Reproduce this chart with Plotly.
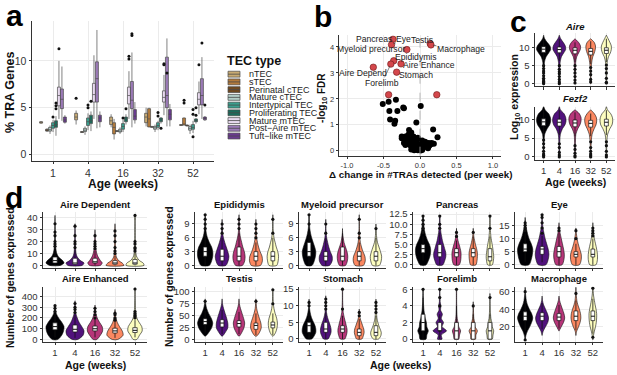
import plotly.graph_objects as go

W, H = 617, 375
FONT = "Liberation Sans"

# ------------------------------------------------------------------ data
ages = ["1", "4", "16", "32", "52"]
age_colors = ["#000004", "#51127C", "#B63679", "#FB8861", "#FCFDBF"]

# panel a : % TRA genes per TEC type and age -> [lo, q1, median, q3, hi]
tec_types = ["nTEC", "sTEC", "Perinatal cTEC", "Mature cTEC", "Intertypical TEC",
             "Proliferating TEC", "Mature mTEC", "Post\u2212Aire mTEC", "Tuft\u2212like mTEC"]
tec_colors = ["#C9AB72", "#B27A3B", "#70491F", "#B3CEC7", "#3A9F8E",
              "#1B6B5B", "#E8DAEF", "#9B7AB7", "#6A3A90"]
tra_ntec = [[3.3, 3.35, 3.45, 3.5, 3.55], [3.2, 3.7, 4.0, 4.4, 4.7], [2.9, 3.2, 3.6, 4.0, 4.3], [3.0, 3.4, 4.0, 4.4, 5.0], [3.05, 3.1, 3.15, 3.2, 3.25]]
tra_stec = [None, None, [1.6, 2.2, 2.9, 3.4, 3.8], [2.9, 2.95, 3.8, 4.9, 5.0], [3.1, 3.15, 3.2, 3.9, 3.95]]
tra_peri = [[2.4, 2.5, 2.6, 2.7, 2.8], [2.3, 2.35, 2.4, 2.45, 2.5], [2.4, 2.45, 2.5, 2.55, 2.6], [2.85, 2.9, 2.95, 3.0, 3.0], [3.0, 3.05, 3.1, 3.15, 3.2]]
tra_mctec = [[2.2, 2.5, 2.65, 2.9, 3.1], [2.1, 2.45, 2.6, 2.8, 3.0], [2.2, 2.4, 2.5, 2.7, 2.9], [2.4, 2.7, 2.85, 3.0, 3.2], [2.2, 2.6, 2.8, 3.0, 3.2]]
tra_inter = [[2.4, 2.8, 3.1, 3.4, 3.7], [2.6, 3.1, 3.5, 3.9, 4.4], [2.4, 2.7, 3.0, 3.3, 3.7], [2.6, 2.9, 3.1, 3.4, 3.6], [2.3, 2.7, 2.9, 3.2, 3.6]]
tra_prolif = [[2.0, 2.9, 3.2, 3.6, 4.1], [2.5, 3.3, 3.6, 4.2, 4.6], [3.2, 3.5, 3.8, 4.0, 4.3], [3.3, 3.5, 3.7, 3.9, 4.0], [3.3, 3.5, 3.6, 3.8, 3.9]]
tra_mmtec = [[3.8, 5.2, 6.3, 7.2, 10.0], [3.8, 5.6, 6.4, 7.6, 10.6], [3.8, 5.4, 6.3, 7.2, 8.9], [4.2, 5.6, 6.1, 6.8, 8.5], [4.3, 5.3, 5.9, 6.6, 7.8]]
tra_postaire = [[3.6, 4.9, 5.9, 7.0, 9.4], [2.8, 5.6, 8.1, 9.9, 13.3], [2.9, 4.9, 5.8, 7.8, 10.9], [3.0, 5.0, 6.3, 10.4, 12.4], [3.8, 5.3, 6.3, 8.1, 10.4]]
tra_tuft = [[3.3, 3.45, 3.7, 4.0, 4.2], [2.9, 3.5, 3.9, 4.2, 4.6], [3.3, 3.7, 4.1, 4.8, 5.6], [3.0, 3.7, 4.3, 4.8, 5.4], [3.6, 3.7, 3.85, 4.0, 4.1]]
tra_out_ntec = [[], [6.0], [], [], []]
tra_out_stec = [[], [], [], [], [5.5, 5.8]]
tra_out_peri = [[], [], [], [], []]
tra_out_mctec = [[], [], [], [], []]
tra_out_inter = [[4.0], [5.0, 5.3], [3.9], [4.1, 4.5], [1.9, 4.3, 4.8]]
tra_out_prolif = [[4.9, 5.2, 5.5], [5.7], [4.9], [2.8], [4.2, 5.0]]
tra_out_mmtec = [[11.3], [], [10.2, 10.5], [9.6, 9.7], [9.6]]
tra_out_postaire = [[], [], [12.7, 12.9], [8.7], [11.9]]
tra_out_tuft = [[], [], [], [], [5.3]]

# panel b : volcano
b_black_dx = [-0.51, -0.43, -0.33, -0.23, -0.22, -0.42, -0.31, 0.01, -0.41, -0.34, -0.35, -0.05, 0.18, -0.15,
              -0.12, -0.16, -0.25, -0.25, -0.20, -0.09, -0.03, 0.24, 0.19, -0.21, -0.18, -0.14, -0.12, -0.10,
              -0.08, -0.06, -0.04, -0.02, 0.00, 0.02, 0.04, 0.06, 0.08, 0.10, 0.12, 0.15, -0.15, -0.13, -0.11,
              -0.09, -0.07, -0.05, -0.03, 0.01, 0.03, 0.05, 0.07, -0.17, -0.20, -0.22, -0.10, -0.06, 0.09, 0.11,
              0.13, -0.01, 0.03, -0.04, 0.16, -0.12, -0.08]
b_black_fdr = [1.80, 1.89, 1.97, 1.67, 1.64, 1.53, 1.53, 1.73, 1.21, 1.16, 1.04, 1.09, 0.82, 0.80,
               0.70, 0.62, 0.55, 0.48, 0.55, 0.55, 0.50, 0.52, 0.27, 0.40, 0.35, 0.45, 0.38, 0.30,
               0.25, 0.20, 0.15, 0.10, 0.05, 0.08, 0.12, 0.18, 0.22, 0.28, 0.30, 0.25, 0.25, 0.20, 0.15,
               0.12, 0.08, 0.05, 0.02, 0.01, 0.03, 0.30, 0.35, 0.30, 0.22, 0.30, 0.40, 0.35, 0.15, 0.10,
               0.20, 0.25, 0.40, 0.42, 0.30, 0.05, 0.02]
b_red_names = ["Pancreas", "Eye", "Testis", "Macrophage", "Myeloid precursor", "Epididymis",
               "Forelimb", "Aire Enhance", "Stomach", "Aire Depend", "", ""]
b_red_dx = [-0.37, -0.39, 0.14, 0.15, -0.18, -0.36, -0.40, -0.26, -0.32, -0.64, -0.43, 0.23]
b_red_fdr = [4.30, 4.09, 4.13, 4.08, 3.90, 3.47, 3.34, 3.35, 3.03, 3.22, 2.16, 2.16]

# panel c : log10 expression violins (density profile at levels) + box stats [lo,q1,med,q3,hi]
c_levels = [0, 1.5, 3, 4.5, 6, 7.5, 8.5, 9.5, 10.5, 11.5, 12.5, 13.5]
aire_widths = [[0.05, 0.05, 0.06, 0.08, 0.12, 0.35, 0.7, 1.0, 0.9, 0.5, 0.15, 0],
               [0.05, 0.05, 0.06, 0.08, 0.12, 0.3, 0.6, 0.9, 0.85, 0.55, 0.2, 0],
               [0.04, 0.04, 0.05, 0.07, 0.1, 0.25, 0.5, 0.75, 0.78, 0.5, 0, 0],
               [0.04, 0.04, 0.05, 0.08, 0.15, 0.3, 0.5, 0.65, 0.68, 0.5, 0, 0],
               [0.04, 0.04, 0.05, 0.07, 0.12, 0.3, 0.55, 0.7, 0.7, 0.5, 0.25, 0]]
aire_stats = [[6.4, 8.7, 9.6, 10.3, 12.5], [6.3, 8.6, 9.5, 10.2, 12.5], [6.0, 8.3, 9.3, 10.0, 11.5],
              [5.5, 8.0, 9.0, 9.8, 11.8], [6.0, 8.4, 9.3, 10.0, 12.5]]
aire_out = [[0, 0.3, 0.6, 1.0, 1.5, 2.2, 3.0, 3.5, 4.2, 5.0], [0, 0.5, 1.2, 2.0, 2.8, 3.3, 4.0, 5.0],
            [0.2, 1.0, 2.0, 3.0, 4.0, 5.0], [0.5, 1.2, 2.5, 3.5, 4.5], [0.2, 0.4, 1.5, 3.0, 4.2, 5.2]]
fezf2_widths = [[0.05, 0.05, 0.06, 0.08, 0.15, 0.5, 0.85, 1.0, 0.95, 0.7, 0.2, 0],
                [0.05, 0.05, 0.06, 0.08, 0.15, 0.45, 0.8, 0.95, 0.9, 0.65, 0.15, 0],
                [0.04, 0.04, 0.05, 0.07, 0.12, 0.4, 0.7, 0.85, 0.85, 0.6, 0, 0],
                [0.05, 0.05, 0.06, 0.1, 0.2, 0.5, 0.75, 0.85, 0.8, 0.5, 0, 0],
                [0.04, 0.04, 0.05, 0.08, 0.18, 0.5, 0.8, 0.9, 0.85, 0.6, 0.15, 0]]
fezf2_stats = [[5.8, 8.3, 9.3, 10.1, 12.5], [5.8, 8.2, 9.2, 10.0, 12.4], [5.5, 8.0, 9.0, 9.8, 11.8],
               [5.5, 7.9, 8.9, 9.7, 11.5], [5.8, 8.2, 9.2, 10.0, 12.4]]
fezf2_out = [[0, 0.4, 0.8, 1.5, 2.5, 3.5, 4.5], [0, 0.5, 1.2, 2.5, 3.5], [0, 0.3, 1.0, 2.0, 3.0],
             [0, 0.3, 0.8, 1.5, 2.5, 4.0], [0, 0.5, 1.5, 3.0, 4.0]]

# panel d : number of genes expressed per TRA category
ad_levels = [0, 2, 4, 7, 10, 15, 20, 25, 30, 35, 42]
ad_widths = [[0.6, 1.0, 0.85, 0.4, 0.2, 0.08, 0.05, 0.04, 0.03, 0.02, 0],
             [0.8, 1.0, 0.6, 0.25, 0.12, 0.06, 0.04, 0.03, 0.02, 0, 0],
             [0.6, 0.8, 0.6, 0.35, 0.2, 0.08, 0.04, 0.02, 0, 0, 0],
             [1.0, 0.8, 0.4, 0.15, 0.08, 0.05, 0.04, 0.03, 0.02, 0, 0],
             [1.0, 0.9, 0.5, 0.2, 0.1, 0.06, 0.04, 0.03, 0.03, 0.02, 0.02]]
ad_stats = [[0, 2, 4, 7, 14], [0, 1, 2, 6, 13], [0, 2, 3, 6, 12], [0, 1, 2, 4, 8], [0, 1, 2, 5, 11]]
ad_out = [[16, 18, 20, 25, 28, 35], [15, 18, 20, 25, 33], [14, 16, 18, 20, 25], [10, 12, 15, 20, 25, 29], [12, 14, 15, 18, 20, 42]]

ae_levels = [0, 40, 80, 120, 160, 200, 240, 280, 320, 360, 400, 440, 480]
ae_widths = [[0.3, 0.75, 0.95, 1.0, 0.75, 0.4, 0.15, 0.06, 0, 0, 0, 0, 0],
             [0.3, 0.9, 1.0, 0.75, 0.45, 0.25, 0.1, 0.05, 0.03, 0, 0, 0, 0],
             [0.2, 0.6, 0.85, 0.8, 0.5, 0.25, 0.1, 0.04, 0, 0, 0, 0, 0],
             [0.3, 0.9, 0.8, 0.5, 0.25, 0.1, 0.04, 0, 0, 0, 0, 0, 0],
             [0.2, 0.5, 0.8, 0.75, 0.45, 0.2, 0.1, 0.06, 0.04, 0.03, 0.02, 0.02, 0.01]]
ae_stats = [[20, 90, 120, 155, 240], [15, 70, 95, 135, 230], [20, 80, 100, 125, 190], [15, 60, 80, 105, 170], [20, 65, 85, 110, 180]]
ae_out = [[260, 290, 315], [250, 280, 300, 335], [200, 230, 260, 290], [180, 200, 230, 245], [200, 220, 240, 260, 470]]

ep_levels = [0, 1, 2, 3, 4, 5, 6, 7, 8, 9, 10, 11]
ep_widths = [[0.55, 0.85, 1.0, 1.0, 0.85, 0.55, 0.3, 0.15, 0.08, 0.05, 0.03, 0.02],
             [0.5, 0.8, 0.9, 0.75, 0.55, 0.35, 0.18, 0.08, 0.04, 0.02, 0, 0],
             [0.45, 0.75, 0.8, 0.7, 0.5, 0.35, 0.2, 0.1, 0.05, 0.03, 0.02, 0],
             [0.6, 0.85, 0.8, 0.55, 0.35, 0.2, 0.1, 0.06, 0.03, 0.02, 0, 0],
             [0.5, 0.7, 0.75, 0.65, 0.45, 0.3, 0.15, 0.08, 0.04, 0.03, 0.02, 0]]
ep_stats = [[0, 2, 3, 4, 7], [0, 1, 2, 3.5, 6], [0, 1, 2, 4, 7], [0, 1, 2, 3, 5], [0, 1, 2, 3, 6]]
ep_out = [[8, 9, 10, 11], [7, 8, 9], [8, 9, 10], [6, 7, 8, 9], [7, 10]]

my_levels = [0, 1, 2, 3, 4, 5, 6, 7, 8, 9, 10, 11]
my_widths = [[0.4, 0.7, 0.85, 0.9, 0.75, 0.55, 0.35, 0.2, 0.1, 0.06, 0.04, 0.02],
             [0.5, 0.85, 0.85, 0.6, 0.4, 0.25, 0.12, 0.06, 0.03, 0.02, 0, 0],
             [0.4, 0.65, 0.7, 0.6, 0.4, 0.2, 0.1, 0.02, 0, 0, 0, 0],
             [0.55, 0.8, 0.75, 0.5, 0.3, 0.15, 0.08, 0.05, 0.03, 0.02, 0.02, 0],
             [0.45, 0.7, 0.75, 0.6, 0.4, 0.2, 0.1, 0.05, 0.02, 0, 0, 0]]
my_stats = [[0, 2, 3, 5, 8], [0, 1, 2, 3, 6], [0, 1, 2, 4, 7], [0, 1, 2, 3, 5], [0, 1, 2, 3, 6]]
my_out = [[9, 11], [7, 9], [], [6, 7, 10], [8]]

pa_levels = [0, 1, 2, 3, 4, 5, 6, 7, 8, 9, 10, 11, 12]
pa_widths = [[0.4, 0.7, 0.9, 1.0, 1.0, 0.85, 0.6, 0.4, 0.25, 0.15, 0.1, 0.06, 0.04],
             [0.4, 0.65, 0.8, 0.8, 0.65, 0.5, 0.35, 0.25, 0.15, 0.1, 0.06, 0.04, 0.03],
             [0.35, 0.55, 0.6, 0.6, 0.5, 0.35, 0.2, 0.1, 0.03, 0, 0, 0, 0],
             [0.35, 0.5, 0.55, 0.55, 0.45, 0.3, 0.18, 0.08, 0.03, 0, 0, 0, 0],
             [0.3, 0.45, 0.5, 0.45, 0.38, 0.3, 0.2, 0.12, 0.08, 0.05, 0.04, 0.03, 0.02]]
pa_stats = [[1, 3, 4, 5, 7], [0, 2, 3, 5, 8], [0, 2, 3, 4, 6], [0, 2, 3, 4, 7], [0, 1, 2, 4, 7]]
pa_out = [[8, 9, 10, 11, 12], [9, 10, 12], [7, 8], [8], [9, 12]]

ey_levels = [0, 2, 4, 6, 8, 10, 12, 14, 16, 18, 19]
ey_widths = [[0.5, 0.8, 0.95, 1.0, 0.8, 0.5, 0.3, 0.15, 0.05, 0, 0],
             [0.5, 0.8, 0.9, 0.8, 0.6, 0.4, 0.25, 0.12, 0.06, 0.03, 0.02],
             [0.4, 0.65, 0.7, 0.6, 0.45, 0.3, 0.15, 0.05, 0, 0, 0],
             [0.45, 0.7, 0.7, 0.5, 0.3, 0.15, 0.06, 0, 0, 0, 0],
             [0.4, 0.6, 0.6, 0.5, 0.35, 0.2, 0.1, 0.04, 0, 0, 0]]
ey_stats = [[1, 5, 6, 8, 12], [1, 4, 6, 7, 11], [0, 3, 5, 7, 12], [0, 3, 4, 5, 8], [0, 3, 4, 6, 10]]
ey_out = [[13, 14, 15, 16], [12, 14, 16, 18, 19], [13, 14], [10, 13], [11, 12, 13, 14]]

te_levels = [8, 15, 25, 35, 45, 55, 65, 75, 85, 95, 105]
te_widths = [[0.05, 0.45, 0.85, 1.0, 0.8, 0.45, 0.2, 0.07, 0, 0, 0],
             [0.05, 0.4, 0.75, 0.75, 0.6, 0.4, 0.2, 0.05, 0, 0, 0],
             [0.05, 0.35, 0.65, 0.75, 0.6, 0.4, 0.2, 0.05, 0, 0, 0],
             [0.1, 0.45, 0.7, 0.65, 0.45, 0.25, 0.1, 0.04, 0, 0, 0],
             [0.05, 0.35, 0.55, 0.6, 0.5, 0.3, 0.15, 0.07, 0.04, 0.03, 0.02]]
te_stats = [[15, 32, 38, 44, 60], [12, 27, 35, 42, 62], [12, 27, 34, 40, 58], [10, 22, 30, 35, 55], [10, 25, 31, 37, 55]]
te_out = [[80], [], [], [80], [75, 104]]

st_levels = [0, 1, 2, 3, 4, 5, 6, 7, 8, 9, 10, 11, 12, 13, 14, 15]
st_widths = [[0.35, 0.7, 0.9, 0.9, 0.8, 0.6, 0.4, 0.25, 0.15, 0.08, 0.05, 0.03, 0, 0, 0, 0],
             [0.3, 0.55, 0.7, 0.7, 0.6, 0.45, 0.3, 0.18, 0.1, 0.06, 0.04, 0.03, 0.02, 0, 0, 0],
             [0.3, 0.5, 0.6, 0.6, 0.5, 0.4, 0.28, 0.18, 0.1, 0.06, 0.04, 0.03, 0.02, 0.02, 0.02, 0.01],
             [0.35, 0.55, 0.65, 0.6, 0.45, 0.3, 0.15, 0.07, 0.03, 0, 0, 0, 0, 0, 0, 0],
             [0.35, 0.65, 0.7, 0.55, 0.38, 0.25, 0.15, 0.1, 0.07, 0.05, 0.04, 0.02, 0, 0, 0, 0]]
st_stats = [[0, 2, 4, 5, 9], [0, 2, 3, 5, 8], [0, 2, 3, 4, 7], [0, 1, 2, 3, 6], [0, 1, 2, 4, 7]]
st_out = [[10, 11], [9, 10, 11, 12], [9, 15], [7, 8], [8, 9, 10, 11]]

fo_levels = [0, 0.5, 1, 1.5, 2, 2.5, 3, 3.5, 4, 4.5, 5, 5.5, 6]
fo_widths = [[0.4, 0.5, 0.7, 0.5, 0.45, 0.3, 0.2, 0.12, 0.08, 0.05, 0.04, 0.03, 0.02],
             [0.3, 0.2, 0.9, 0.3, 0.5, 0.2, 0.35, 0.1, 0.15, 0.05, 0.06, 0.02, 0.02],
             [0.3, 0.4, 0.55, 0.3, 0.2, 0.1, 0.06, 0.04, 0.03, 0.02, 0.02, 0.02, 0.01],
             [0.3, 0.35, 0.55, 0.25, 0.2, 0.08, 0.05, 0.03, 0.02, 0, 0, 0, 0],
             [0.3, 0.4, 0.5, 0.3, 0.25, 0.12, 0.08, 0.05, 0.03, 0.02, 0.01, 0, 0]]
fo_stats = [[0, 1, 2, 3, 5], [0, 1, 1, 2, 3], [0, 0, 1, 2, 4], [0, 0, 1, 2, 3], [0, 0, 1, 2, 3]]
fo_out = [[6], [4, 5, 6], [6], [4], [5]]

ma_levels = [5, 10, 15, 20, 25, 30, 35, 40, 45, 50, 55, 60, 65]
ma_widths = [[0, 0.1, 0.3, 0.6, 0.85, 1.0, 0.85, 0.55, 0.3, 0.15, 0.08, 0.03, 0],
             [0, 0, 0.15, 0.45, 0.75, 0.85, 0.7, 0.45, 0.2, 0.05, 0, 0, 0],
             [0, 0, 0, 0.3, 0.6, 0.75, 0.65, 0.45, 0.25, 0.08, 0, 0, 0],
             [0, 0, 0.1, 0.35, 0.55, 0.65, 0.6, 0.45, 0.25, 0.12, 0.06, 0.02, 0],
             [0, 0.08, 0.2, 0.35, 0.45, 0.5, 0.5, 0.42, 0.3, 0.2, 0.1, 0.05, 0.02]]
ma_stats = [[15, 27, 32, 37, 50], [17, 27, 32, 36, 47], [18, 27, 31, 35, 45], [16, 27, 32, 38, 50], [12, 27, 32, 38, 52]]
ma_out = [[5, 60], [], [], [58], [8, 64]]

# ------------------------------------------------------------------ helpers
fig = go.Figure()
_n = [0]


def new_axes(x0, x1, y0, y1, xr, yr, xtv, xtt, ytv, ytt, xlabels=True, tfs=9.5):
    _n[0] += 1
    s = "" if _n[0] == 1 else str(_n[0])
    base = dict(showline=True, linecolor="#333333", linewidth=0.9, ticks="outside", ticklen=2.5,
                tickwidth=0.9, tickcolor="#333333", showgrid=True, gridcolor="#EBEBEB", gridwidth=0.8,
                zeroline=False, tickfont=dict(family=FONT, size=tfs, color="#333333"),
                fixedrange=True, tickmode="array", layer="below traces")
    fig.update_layout(**{
        "xaxis" + s: dict(base, domain=[x0 / W, x1 / W], range=xr, anchor="y" + s,
                          tickvals=xtv, ticktext=xtt, showticklabels=xlabels),
        "yaxis" + s: dict(base, domain=[1 - y1 / H, 1 - y0 / H], range=yr, anchor="x" + s,
                          tickvals=ytv, ticktext=ytt),
    })
    return "x" + s, "y" + s


def text(x, y, s, size, bold=False, italic=False, xanchor="center", yanchor="middle", angle=0, color="#111111"):
    if italic:
        s = "<i>" + s + "</i>"
    if bold:
        s = "<b>" + s + "</b>"
    fig.add_annotation(x=x / W, y=1 - y / H, xref="paper", yref="paper", text=s, showarrow=False,
                       font=dict(family=FONT, size=size, color=color), xanchor=xanchor,
                       yanchor=yanchor, textangle=angle)


def violin(xa, ya, xc, levels, widths, color, hw=0.45):
    nz = [i for i, w in enumerate(widths) if w > 0]
    i0 = max(nz[0] - 1, 0)
    i1 = min(nz[-1] + 1, len(widths) - 1)
    ys = levels[i0:i1 + 1]
    ws = widths[i0:i1 + 1]
    xs = [xc + w * hw for w in ws] + [xc - w * hw for w in ws[::-1]]
    yy = ys + ys[::-1]
    xs.append(xs[0])
    yy.append(yy[0])
    fig.add_trace(go.Scatter(x=xs, y=yy, mode="lines", fill="toself", fillcolor=color,
                             line=dict(color="#111111", width=0.6, shape="spline", smoothing=0.8),
                             xaxis=xa, yaxis=ya, hoverinfo="skip", showlegend=False))


def boxes(xa, ya, pos, stats, width, fill, lc, lw):
    fig.add_trace(go.Box(x=pos, lowerfence=[s[0] for s in stats], q1=[s[1] for s in stats],
                         median=[s[2] for s in stats], q3=[s[3] for s in stats],
                         upperfence=[s[4] for s in stats], width=width, fillcolor=fill,
                         line=dict(color=lc, width=lw), whiskerwidth=0, boxpoints=False,
                         orientation="v", xaxis=xa, yaxis=ya, showlegend=False, hoverinfo="skip"))


def line_boxes(xa, ya, pos, stats, bw):
    # box-and-whisker drawn as scatter so it sits above the violin fills
    wx, wy, rx, ry, mx, my = [], [], [], [], [], []
    for p, (lo, q1, md, q3, hi) in zip(pos, stats):
        wx += [p, p, None, p, p, None]
        wy += [lo, q1, None, q3, hi, None]
        rx += [p - bw / 2, p + bw / 2, p + bw / 2, p - bw / 2, p - bw / 2, None]
        ry += [q1, q1, q3, q3, q1, None]
        mx += [p - bw / 2, p + bw / 2, None]
        my += [md, md, None]
    fig.add_trace(go.Scatter(x=wx, y=wy, mode="lines", line=dict(color="#111111", width=0.8),
                             xaxis=xa, yaxis=ya, hoverinfo="skip", showlegend=False))
    fig.add_trace(go.Scatter(x=rx, y=ry, mode="lines", fill="toself", fillcolor="white",
                             line=dict(color="#111111", width=0.7),
                             xaxis=xa, yaxis=ya, hoverinfo="skip", showlegend=False))
    fig.add_trace(go.Scatter(x=mx, y=my, mode="lines", line=dict(color="#111111", width=1.0),
                             xaxis=xa, yaxis=ya, hoverinfo="skip", showlegend=False))


def outliers(xa, ya, pos, outs, size=3.2):
    xs, ys = [], []
    for p, o in zip(pos, outs):
        xs += [p] * len(o)
        ys += o
    fig.add_trace(go.Scatter(x=xs, y=ys, mode="markers", marker=dict(color="#111111", size=size),
                             xaxis=xa, yaxis=ya, hoverinfo="skip", showlegend=False))


def violin_panel(xa, ya, levels, widths, stats, outs, bw=0.22):
    pos = [1, 2, 3, 4, 5]
    for i in range(5):
        violin(xa, ya, pos[i], levels, widths[i], age_colors[i])
    line_boxes(xa, ya, pos, stats, bw)
    outliers(xa, ya, pos, outs)


cat_pos = [1, 2, 3, 4, 5]

# ------------------------------------------------------------------ panel a
xa, ya = new_axes(32, 214, 17, 160, [0.4, 5.6], [-0.65, 14.3], cat_pos, ages, [0, 5, 10], ["0", "5", "10"], tfs=10.5)
tra_all = [tra_ntec, tra_stec, tra_peri, tra_mctec, tra_inter, tra_prolif, tra_mmtec, tra_postaire, tra_tuft]
tra_out_all = [tra_out_ntec, tra_out_stec, tra_out_peri, tra_out_mctec, tra_out_inter, tra_out_prolif,
               tra_out_mmtec, tra_out_postaire, tra_out_tuft]
for j, (st, ou) in enumerate(zip(tra_all, tra_out_all)):
    pos = [i + 1 + (j - 4) * 0.085 for i in range(5) if st[i] is not None]
    sts = [s for s in st if s is not None]
    boxes(xa, ya, pos, sts, 0.085, tec_colors[j], "#4a4a4a", 0.7)
    outliers(xa, ya, [i + 1 + (j - 4) * 0.085 for i in range(5)], ou, size=3)

text(10, 90, "% TRA Genes", 12.5, bold=True, angle=-90)
text(123, 183.5, "Age (weeks)", 12, bold=True)
text(225, 58, "TEC type", 12.5, bold=True, xanchor="left")
for j, name in enumerate(tec_types):
    yc = 71.7 + j * 7.9
    fig.add_shape(type="rect", xref="paper", yref="paper", x0=228 / W, x1=240 / W,
                  y0=1 - (yc + 3) / H, y1=1 - (yc - 3) / H, fillcolor=tec_colors[j],
                  line=dict(color="#4a4a4a", width=0.7))
    fig.add_shape(type="line", xref="paper", yref="paper", x0=228 / W, x1=240 / W,
                  y0=1 - yc / H, y1=1 - yc / H, line=dict(color="#4a4a4a", width=0.8))
    text(246.5, yc, name, 9, xanchor="left", color="#222222")

# ------------------------------------------------------------------ panel b
xb, yb = new_axes(339, 501, 32, 155, [-1.11, 1.11], [-0.19, 4.45], [-1, -0.5, 0, 0.5, 1],
                  ["-1.0", "-0.5", "0.0", "0.5", "1.0"], [0, 1, 2, 3, 4], ["0", "1", "2", "3", "4"], tfs=7.5)
fig.add_shape(type="line", xref=xb, yref=yb + " domain", x0=0, x1=0, y0=0, y1=1,
              line=dict(color="#aaaaaa", width=0.8, dash="dash"))
fig.add_trace(go.Scatter(x=b_black_dx, y=b_black_fdr, mode="markers",
                         marker=dict(color="#000000", size=6), xaxis=xb, yaxis=yb,
                         hoverinfo="skip", showlegend=False))
fig.add_trace(go.Scatter(x=b_red_dx, y=b_red_fdr, mode="markers",
                         marker=dict(color="#D4474B", size=6.5, line=dict(color="#6b1a1a", width=0.6)),
                         xaxis=xb, yaxis=yb, hoverinfo="skip", showlegend=False))
label_at = {"Pancreas": (-0.63, 4.31), "Eye": (-0.22, 4.30), "Testis": (0.03, 4.27),
            "Macrophage": (0.56, 3.92), "Myeloid precursor": (-0.67, 3.94), "Epididymis": (-0.05, 3.63),
            "Forelimb": (-0.52, 2.62), "Aire Enhance": (0.12, 3.32), "Stomach": (-0.06, 2.91),
            "Aire Depend": (-0.78, 2.98)}
for nm, xv, yv in zip(b_red_names, b_red_dx, b_red_fdr):
    if not nm:
        continue
    lx, ly = label_at[nm]
    fig.add_annotation(x=xv, y=yv, xref=xb, yref=yb, ax=lx, ay=ly, axref=xb, ayref=yb, text=nm,
                       showarrow=True, arrowhead=0, arrowwidth=0.6, arrowcolor="#333333", standoff=2,
                       borderpad=0, font=dict(family=FONT, size=8.6, color="#222222"))
text(322, 96, "-log<sub>10</sub> FDR", 10, bold=True, angle=-90)
text(420, 174.5, "\u0394 change in #TRAs detected (per week)", 9.8, bold=True)

# ------------------------------------------------------------------ panel c
xc1, yc1 = new_axes(535, 615, 30, 84, [0.45, 5.55], [-0.7, 14.0], cat_pos, ages, [0, 5, 10], ["0", "5", "10"], xlabels=False)
violin_panel(xc1, yc1, c_levels, aire_widths, aire_stats, aire_out, bw=0.25)
xc2, yc2 = new_axes(535, 615, 105, 159, [0.45, 5.55], [-0.7, 13.3], cat_pos, ages, [0, 5, 10], ["0", "5", "10"])
violin_panel(xc2, yc2, c_levels, fezf2_widths, fezf2_stats, fezf2_out, bw=0.25)
text(575, 23, "Aire", 9.5, bold=True, italic=True)
text(575, 97, "Fezf2", 9.5, bold=True, italic=True)
text(515, 95, "Log<sub>10</sub> expression", 10.5, bold=True, angle=-90)
text(575, 182, "Age (weeks)", 10.5, bold=True)

# ------------------------------------------------------------------ panel d
cols = [(43, 147), (195, 283), (299, 386), (413, 500), (515, 603)]
top_row = (213, 269.5)
bot_row = (289, 345)
d_panels = [
    ("Aire Dependent", 0, top_row, ad_levels, ad_widths, ad_stats, ad_out, [-2, 44.5], [0, 10, 20, 30, 40], ["0", "10", "20", "30", "40"]),
    ("Aire Enhanced", 0, bot_row, ae_levels, ae_widths, ae_stats, ae_out, [-20, 490], [0, 100, 200, 300, 400], ["0", "100", "200", "300", "400"]),
    ("Epididymis", 1, top_row, ep_levels, ep_widths, ep_stats, ep_out, [-0.5, 11.5], [0, 3, 6, 9], ["0", "3", "6", "9"]),
    ("Testis", 1, bot_row, te_levels, te_widths, te_stats, te_out, [-3.5, 110], [0, 25, 50, 75, 100], ["0", "25", "50", "75", "100"]),
    ("Myeloid precursor", 2, top_row, my_levels, my_widths, my_stats, my_out, [-0.5, 11.5], [0, 3, 6, 9], ["0", "3", "6", "9"]),
    ("Stomach", 2, bot_row, st_levels, st_widths, st_stats, st_out, [-0.8, 15.7], [0, 5, 10, 15], ["0", "5", "10", "15"]),
    ("Pancreas", 3, top_row, pa_levels, pa_widths, pa_stats, pa_out, [-0.7, 12.9], [0, 2.5, 5, 7.5, 10, 12.5], ["0.0", "2.5", "5.0", "7.5", "10.0", "12.5"]),
    ("Forelimb", 3, bot_row, fo_levels, fo_widths, fo_stats, fo_out, [-0.3, 6.3], [0, 2, 4, 6], ["0", "2", "4", "6"]),
    ("Eye", 4, top_row, ey_levels, ey_widths, ey_stats, ey_out, [-1.1, 19.9], [0, 5, 10, 15], ["0", "5", "10", "15"]),
    ("Macrophage", 4, bot_row, ma_levels, ma_widths, ma_stats, ma_out, [3, 65.5], [20, 40, 60], ["20", "40", "60"]),
]
for title, ci, row, lv, wd, stt, ou, yr, ytv, ytt in d_panels:
    x0, x1 = cols[ci]
    y0, y1 = row
    xa, ya = new_axes(x0, x1, y0, y1, [0.4, 5.6], yr, cat_pos, ages, ytv, ytt, xlabels=(row == bot_row))
    violin_panel(xa, ya, lv, wd, stt, ou)
    text((x0 + x1) / 2, y0 - 8.5, title, 9.5, bold=True)

text(10, 280, "Number of genes expressed", 10.5, bold=True, angle=-90)
text(169, 279, "Number of genes expressed", 10.5, bold=True, angle=-90)
text(95, 368.5, "Age (weeks)", 10.5, bold=True)
text(400, 368.5, "Age (weeks)", 10.5, bold=True)

# ------------------------------------------------------------------ panel letters
text(14, 12, "a", 30, bold=True, color="#000000")
text(323, 13, "b", 30, bold=True, color="#000000")
text(518, 18, "c", 30, bold=True, color="#000000")
text(14, 198, "d", 30, bold=True, color="#000000")

fig.update_layout(width=W, height=H, margin=dict(l=0, r=0, t=0, b=0), paper_bgcolor="white",
                  plot_bgcolor="white", showlegend=False, font=dict(family=FONT))
fig.write_html("out.html", config={"displayModeBar": False},
               post_script="document.body.style.margin='0px';document.body.style.overflow='hidden';")
